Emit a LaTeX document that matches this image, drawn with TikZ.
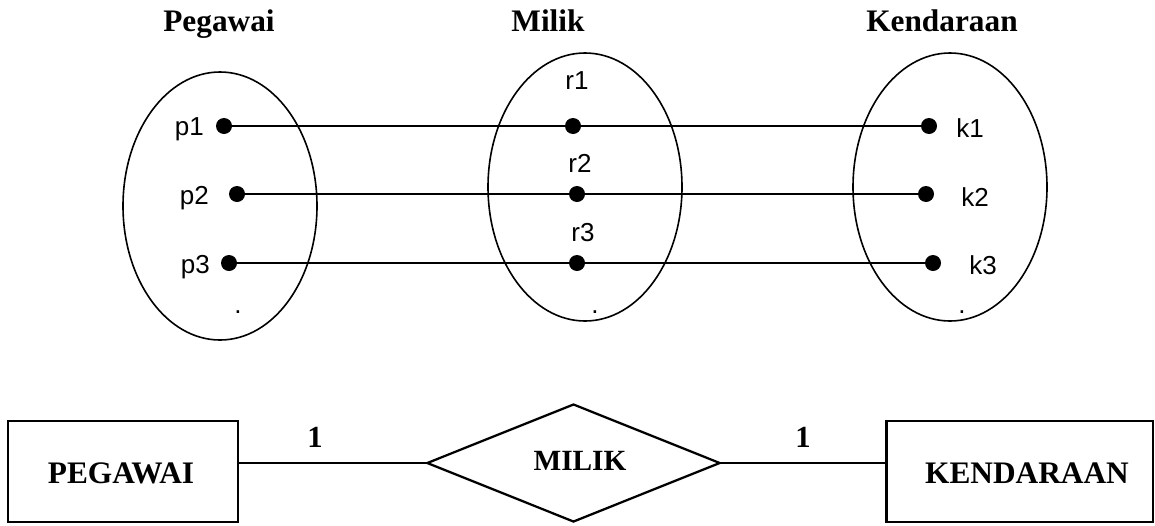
\documentclass[tikz,border=0pt]{standalone}
\usepackage{fontspec}
\setmainfont{Liberation Serif}
\newfontfamily\arialf{Liberation Sans}
\usetikzlibrary{shapes.geometric}
\tikzset{
  setell/.style={draw, ellipse, line width=1.2pt, inner sep=0pt, minimum width=145.5pt, minimum height=201pt},
  dot/.style={circle, fill=black, inner sep=0pt, minimum size=12pt},
  link/.style={line width=1.3pt},
  elab/.style={font=\arialf\fontsize{19.5}{19.5}\selectfont, inner sep=0pt},
  title/.style={font=\bfseries\fontsize{23.5}{23.5}\selectfont, inner sep=0pt, anchor=base},
  entity/.style={draw, line width=2pt, rectangle, inner sep=0pt},
  etext/.style={font=\bfseries\fontsize{23.5}{23.5}\selectfont, inner sep=0pt, anchor=base},
  rel/.style={draw, line width=1.7pt, diamond, inner sep=0pt, aspect=2.48, minimum width=220pt, minimum height=88.5pt},
  erline/.style={line width=2pt},
  card/.style={font=\bfseries\fontsize{23}{23}\selectfont, inner sep=0pt, anchor=base}
}
\begin{document}
\begin{tikzpicture}[x=0.75pt,y=-0.75pt]
\useasboundingbox (0,0) rectangle (1155,525);
% titles
\node[title] (tP) at (219,31) {Pegawai};
\node[title] (tM) at (548,31) {Milik};
\node[title] (tK) at (942,31) {Kendaraan};
% ellipses
\node[setell] (EP) at (220,206) {};
\node[setell] (EM) at (585,187) {};
\node[setell] (EK) at (950,187) {};
% dots
\node[dot] (p1) at (224,126) {};
\node[dot] (p2) at (237,194) {};
\node[dot] (p3) at (229,263) {};
\node[dot] (r1) at (573,126) {};
\node[dot] (r2) at (577,194) {};
\node[dot] (r3) at (577,263) {};
\node[dot] (k1) at (929,126) {};
\node[dot] (k2) at (926,194) {};
\node[dot] (k3) at (933,263) {};
% labels
\node[elab, anchor=base east] (lp1) at (204,135) {p1};
\node[elab, anchor=base east] (lp2) at (209,204) {p2};
\node[elab, anchor=base east] (lp3) at (210,273) {p3};
\node[elab, anchor=base] (lr1) at (577,89) {r1};
\node[elab, anchor=base] (lr2) at (580,172) {r2};
\node[elab, anchor=base] (lr3) at (583,241) {r3};
\node[elab, anchor=base west] (lk1) at (956,137) {k1};
\node[elab, anchor=base west] (lk2) at (961,206) {k2};
\node[elab, anchor=base west] (lk3) at (969,274) {k3};
\node[elab, anchor=base] (dP) at (238,313) {.};
\node[elab, anchor=base] (dM) at (595,313) {.};
\node[elab, anchor=base] (dK) at (962,313) {.};
% connectors
\draw[link] (p1) -- (r1) -- (k1);
\draw[link] (p2) -- (r2) -- (k2);
\draw[link] (p3) -- (r3) -- (k3);
% ER diagram
\node[entity, minimum width=172.5pt, minimum height=75.75pt] (PEG) at (123,471.5) {};
\node[etext] (PEGt) at (121,483) {PEGAWAI};
\node[entity, minimum width=200pt, minimum height=75.75pt] (KEN) at (1019.5,471.5) {};
\node[etext] (KENt) at (1027,483) {KENDARAAN};
\node[rel] (MIL) at (573.5,463) {};
\node[etext, font=\bfseries\fontsize{22}{22}\selectfont] (MILt) at (580,470) {MILIK};
\draw[erline] (PEG.east |- MIL.west) -- (MIL.west);
\draw[erline] (MIL.east) -- (KEN.west |- MIL.east);
\node[card] (c1) at (315,447) {1};
\node[card] (c2) at (803,447) {1};
\end{tikzpicture}
\end{document}
